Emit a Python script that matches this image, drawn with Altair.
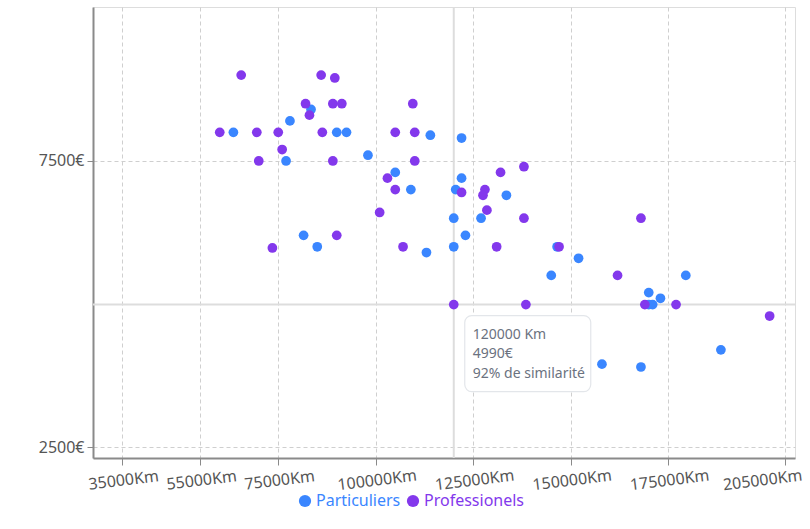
import altair as alt
import pandas as pd

# ---- data ----
series = ["Particuliers", "Professionels"]
series_colors = ["#3a86ff", "#8338ec"]

part_km = [63500, 78000, 83400, 77000, 90000, 92500, 98000, 114000, 122000, 105000,
           122000, 109000, 120500, 133500, 120000, 127000, 123000, 81500, 85000, 120000,
           113000, 146500, 152000, 145000, 179500, 170000, 173000, 170000, 171000, 188500,
           158000, 168000]
part_price = [8000, 8200, 8400, 7500, 8000, 8000, 7600, 7950, 7900, 7300,
              7200, 7000, 7000, 6900, 6500, 6500, 6200, 6200, 6000, 6000,
              5900, 6000, 5800, 5500, 5500, 5200, 5100, 4990, 4990, 4200,
              3950, 3900]

pro_km = [65500, 86000, 89500, 82000, 83000, 89000, 91300, 109500, 60000, 69500,
          75000, 86300, 105000, 110000, 76000, 70000, 89000, 110000, 103000, 105000,
          122000, 101000, 90000, 73500, 107000, 131000, 147000, 132000, 138000, 128000,
          127500, 128500, 138000, 168000, 162000, 120000, 138500, 169000, 177000, 201000]
pro_price = [9000, 9000, 8950, 8500, 8300, 8500, 8500, 8500, 8000, 8000,
             8000, 8000, 8000, 8000, 7700, 7500, 7500, 7500, 7200, 7000,
             6950, 6600, 6200, 5980, 6000, 6000, 6000, 7300, 7400, 7000,
             6900, 6640, 6500, 6500, 5500, 4990, 4990, 4990, 4990, 4790]

x_ticks = [35000, 55000, 75000, 100000, 125000, 150000, 175000, 205000]
y_ticks = [2500, 7500]
x_domain = [27500, 207500]
y_domain = [2310, 10190]

sel_km = [120000]
sel_price = [4990]
sel_similarity = [92]

# ---- tables ----
part_df = pd.DataFrame({"km": part_km, "price": part_price, "type": series[0]})
pro_df = pd.DataFrame({"km": pro_km, "price": pro_price, "type": series[1]})
sel_df = pd.DataFrame({"km": sel_km, "price": sel_price, "sim": sel_similarity})

FONT = "Noto Sans"
GRID = "#cfcfcf"
last_tick = x_ticks[-1]

x_enc = alt.X(
    "km:Q",
    scale=alt.Scale(domain=x_domain, nice=False, zero=False),
    axis=alt.Axis(
        values=x_ticks, title=None, labelExpr="datum.value + 'Km'",
        labelAngle=353, labelAlign="center", labelBaseline="top",
        labelFontSize=16, labelColor="#555555", labelFont=FONT, labelPadding=7,
        labelOffset={"condition": {"test": f"datum.value == {last_tick}", "value": -24}, "value": 0},
        tickSize=7, tickColor="#8a8a8a", domainColor="#8a8a8a", domainWidth=2,
        grid=True, gridColor=GRID, gridDash=[4, 3], labelOverlap=False, labelBound=False,
    ),
)
y_enc = alt.Y(
    "price:Q",
    scale=alt.Scale(domain=y_domain, nice=False, zero=False),
    axis=alt.Axis(
        values=y_ticks, title=None, labelExpr="datum.value + '€'",
        labelFontSize=16, labelColor="#555555", labelFont=FONT, labelPadding=3,
        tickSize=6, tickColor="#8a8a8a", domainColor="#8a8a8a", domainWidth=2,
        grid=True, gridColor=GRID, gridDash=[4, 3],
    ),
)


def legend_for(i, lx):
    return alt.Legend(
        orient="none", legendX=lx, legendY=486, title=None,
        direction="horizontal", symbolType="circle", symbolSize=150,
        symbolStrokeWidth=0, labelColor=series_colors[i], labelFontSize=16,
        labelFont=FONT, labelOffset=3, padding=0,
    )


cross_v = alt.Chart(sel_df).mark_rule(color="#dddddd", strokeWidth=2).encode(x=x_enc)
cross_h = alt.Chart(sel_df).mark_rule(color="#dddddd", strokeWidth=2).encode(y=y_enc)

pts_part = alt.Chart(part_df).mark_circle(size=95, opacity=1).encode(
    x=x_enc, y=y_enc,
    color=alt.Color("type:N", scale=alt.Scale(domain=[series[0]], range=[series_colors[0]]),
                    legend=legend_for(0, 204)),
)
pts_pro = alt.Chart(pro_df).mark_circle(size=95, opacity=1).encode(
    x=x_enc, y=y_enc,
    color=alt.Color("type2:N", scale=alt.Scale(domain=[series[1]], range=[series_colors[1]]),
                    legend=legend_for(1, 312)),
).transform_calculate(type2="datum.type")

tip_box = alt.Chart(sel_df).mark_rect(
    fill="white", stroke="#e3e6ea", strokeWidth=1.2, cornerRadius=7,
    xOffset=11, x2Offset=137, yOffset=11, y2Offset=87,
).encode(x=x_enc, x2="km:Q", y=y_enc, y2="price:Q")

tip_text = alt.Chart(sel_df).transform_calculate(
    label="datum.km + ' Km\\n' + datum.price + '€\\n' + datum.sim + '% de similarité'"
).mark_text(
    align="left", baseline="top", dx=19, dy=23, lineBreak="\n", lineHeight=19.5,
    fontSize=14, font=FONT, color="#6b7280",
).encode(x=x_enc, y=y_enc, text="label:N")

chart = alt.layer(cross_v, cross_h, pts_part, pts_pro, tip_box, tip_text).resolve_scale(
    color="independent"
).properties(
    width=702, height=451,
    autosize=alt.AutoSizeParams(type="none"),
    padding={"left": 93, "top": 7, "right": 15, "bottom": 71},
).configure_view(
    stroke=GRID, strokeDash=[4, 3], strokeWidth=1
).configure(background="white")

chart.save("out.html", embed_options={"renderer": "svg", "actions": False})
